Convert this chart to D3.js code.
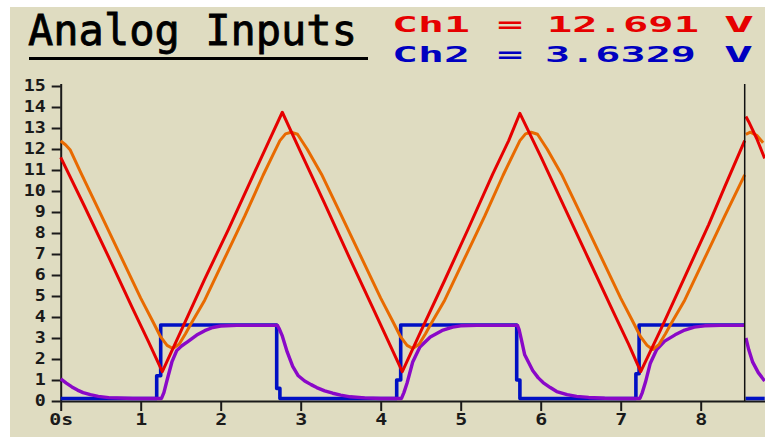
<!DOCTYPE html>
<html>
<head>
<meta charset="utf-8">
<script src="https://cdn.jsdelivr.net/npm/d3@7"></script>
<style>
  body { margin: 0; background: #ffffff; }
  svg { display: block; }
  .tick text { font-family: "DejaVu Sans Mono", monospace; font-weight: bold; font-size: 15px; fill: #1a1a1a; }
</style>
</head>
<body>
<svg id="chart" width="765" height="437"></svg>
<script>
// axis ticks
const yTicks = [0, 1, 2, 3, 4, 5, 6, 7, 8, 9, 10, 11, 12, 13, 14, 15];
const xTicks = [0, 1, 2, 3, 4, 5, 6, 7, 8];
const xTickLabels = ["0s", "1", "2", "3", "4", "5", "6", "7", "8"];

// readouts
const ch1Value = "12.691";
const ch2Value = "3.6329";
const cursorT = 8.55;

// traces [time s, volts]; "now" = left of the cursor, "old" = previous sweep right of it
const redNow = [[0,11.6],[0.3,9.25],[0.6,6.85],[0.9,4.4],[1.1,2.8],[1.27,1.4],[1.5,3.3],[1.8,5.8],[2.1,8.2],[2.4,10.7],[2.6,12.35],[2.77,13.75],
  [3.0,11.85],[3.3,9.4],[3.6,6.9],[3.9,4.45],[4.1,2.8],[4.27,1.4],[4.5,3.3],[4.8,5.75],[5.1,8.25],[5.4,10.8],[5.6,12.4],[5.74,13.7],
  [6.0,11.65],[6.3,9.2],[6.6,6.75],[6.9,4.3],[7.1,2.7],[7.25,1.4],[7.5,3.4],[7.8,5.9],[8.1,8.4],[8.3,10.2],[8.55,12.4]];
const redOld = [[8.565,13.55],[8.6,13.3],[8.7,12.5],[8.8,11.55]];

const orangeNow = [[0,12.38],[0.06,12.2],[0.12,11.95],[0.26,10.8],[0.5,8.9],[0.75,6.9],[1.0,4.9],[1.15,3.8],[1.25,3.05],[1.33,2.65],[1.4,2.5],
  [1.48,2.7],[1.56,3.2],[1.62,3.62],[1.8,4.8],[2.05,6.8],[2.3,8.8],[2.53,10.75],[2.65,11.7],[2.74,12.4],[2.81,12.72],[2.88,12.8],[2.96,12.7],
  [3.08,12.0],[3.26,10.8],[3.5,8.9],[3.75,6.9],[4.0,4.9],[4.15,3.8],[4.25,3.05],[4.33,2.65],[4.4,2.5],[4.48,2.7],[4.56,3.2],[4.62,3.62],
  [4.8,4.8],[5.05,6.8],[5.3,8.8],[5.53,10.75],[5.65,11.7],[5.74,12.4],[5.81,12.72],[5.88,12.8],[5.96,12.7],[6.08,12.0],[6.26,10.8],
  [6.5,8.9],[6.75,6.9],[7.0,4.9],[7.15,3.8],[7.25,3.05],[7.33,2.65],[7.4,2.45],[7.48,2.7],[7.56,3.2],[7.62,3.62],[7.8,4.8],[8.05,6.8],
  [8.3,8.8],[8.55,10.77]];
const orangeOld = [[8.565,12.7],[8.62,12.8],[8.7,12.65],[8.78,12.3]];

const blueNow = [[0,0.12],[1.2,0.12],[1.2,1.2],[1.25,1.2],[1.25,3.62],[2.7,3.62],[2.7,0.6],[2.74,0.6],[2.74,0.12],
  [4.2,0.12],[4.2,1.0],[4.25,1.0],[4.25,3.62],[5.7,3.62],[5.7,1.0],[5.74,1.0],[5.74,0.12],
  [7.19,0.12],[7.19,1.3],[7.23,1.3],[7.23,3.62],[8.55,3.62]];
const blueOld = [[8.56,0.12],[8.8,0.12]];

const purpleNow = [[0,1.05],[0.07,0.85],[0.14,0.67],[0.21,0.52],[0.28,0.4],[0.37,0.3],[0.47,0.22],[0.6,0.16],[0.9,0.12],[1.26,0.12],
  [1.29,0.4],[1.33,1.0],[1.39,1.86],[1.45,2.4],[1.51,2.62],[1.58,2.8],[1.7,3.14],[1.8,3.35],[1.9,3.5],[2.0,3.57],[2.2,3.6],[2.71,3.6],
  [2.73,3.45],[2.77,3.1],[2.83,2.35],[2.9,1.65],[2.97,1.2],[3.05,0.95],[3.13,0.78],[3.2,0.64],[3.3,0.48],[3.4,0.37],[3.5,0.28],
  [3.62,0.2],[3.8,0.15],[4.0,0.12],[4.26,0.12],
  [4.29,0.4],[4.33,0.86],[4.4,1.86],[4.49,2.57],[4.62,3.05],[4.78,3.38],[4.9,3.52],[5.0,3.58],[5.2,3.6],[5.71,3.6],
  [5.73,3.4],[5.76,2.9],[5.8,2.2],[5.9,1.45],[5.97,1.1],[6.03,0.88],[6.12,0.64],[6.2,0.45],[6.33,0.3],[6.45,0.22],[6.6,0.17],
  [6.8,0.13],[7.0,0.12],[7.24,0.12],
  [7.27,0.4],[7.31,0.9],[7.37,1.8],[7.45,2.45],[7.55,2.85],[7.68,3.15],[7.8,3.38],[7.92,3.52],[8.05,3.58],[8.25,3.6],[8.55,3.6]];
const purpleOld = [[8.565,3.0],[8.6,2.45],[8.65,1.85],[8.72,1.35],[8.8,0.95]];

const svg = d3.select("#chart");

svg.append("rect")
  .attr("x", 10).attr("y", 7)
  .attr("width", 755).attr("height", 430)
  .attr("fill", "#dfdcc1");

const x = d3.scaleLinear().domain([0, 8.8]).range([60.7, 764.7]);
const y = d3.scaleLinear().domain([0, 15]).range([401, 86]);

// title
svg.append("text")
  .attr("x", 28).attr("y", 45)
  .attr("textLength", 329).attr("lengthAdjust", "spacingAndGlyphs")
  .style("font-family", "'DejaVu Sans Mono', monospace")
  .style("font-size", "42px")
  .style("stroke", "#000").style("stroke-width", 0.8)
  .attr("fill", "#000")
  .text("Analog Inputs");

svg.append("rect")
  .attr("x", 29).attr("y", 57)
  .attr("width", 339).attr("height", 3)
  .attr("fill", "#000");

// readouts, stretched to the wide bitmap look
const readout = (parts, baseline, color) => {
  parts.forEach(([txt, x0, len]) => {
    svg.append("text")
      .attr("x", x0).attr("y", baseline)
      .attr("textLength", len).attr("lengthAdjust", "spacingAndGlyphs")
      .style("font-family", "'DejaVu Sans Mono', monospace")
      .style("font-weight", "bold")
      .style("font-size", "22px")
      .attr("fill", color)
      .text(txt);
  });
};
readout([["Ch1", 392, 78], ["=", 497, 26], [ch1Value, 547, 152], ["V", 724, 30]], 32, "#e60000");
readout([["Ch2", 392, 78], ["=", 497, 26], [ch2Value, 545, 151], ["V", 724, 29]], 62, "#0000c0");

// axes
const yAxis = svg.append("g")
  .attr("transform", `translate(${x(0)},0)`)
  .call(d3.axisLeft(y).tickValues(yTicks).tickSize(9).tickPadding(6).tickSizeOuter(0));
yAxis.selectAll(".tick text")
  .attr("textLength", d => String(d).length * 11)
  .attr("lengthAdjust", "spacingAndGlyphs");

const xAxis = svg.append("g")
  .attr("transform", `translate(0,${y(0)})`)
  .call(d3.axisBottom(x).tickValues(xTicks).tickFormat((d, i) => xTickLabels[i]).tickSize(10).tickPadding(3).tickSizeOuter(0));
xAxis.selectAll(".tick text")
  .attr("textLength", (d, i) => xTickLabels[i].length * 12)
  .attr("lengthAdjust", "spacingAndGlyphs");

svg.selectAll(".domain, .tick line")
  .attr("stroke", "#1a1a1a")
  .attr("stroke-width", 2);
yAxis.select(".domain").attr("d", `M0.5,${y(15) - 2}V${y(0)}`);
xAxis.select(".domain").attr("d", `M${x(0)},0.5H765`);

// traces
const line = d3.line().x(d => x(d[0])).y(d => y(d[1]));
const traces = [
  [blueNow, blueOld, "#0010c4", 3.6],
  [purpleNow, purpleOld, "#8a08c8", 3.4],
  [orangeNow, orangeOld, "#e86a00", 3],
  [redNow, redOld, "#e60000", 3]
];
traces.forEach(([now, old, color, w]) => {
  [now, old].forEach(pts => {
    svg.append("path")
      .attr("d", line(pts))
      .attr("fill", "none")
      .attr("stroke", color)
      .attr("stroke-width", w)
      .attr("stroke-linejoin", "round");
  });
});

// sweep cursor
svg.append("line")
  .attr("x1", x(cursorT)).attr("x2", x(cursorT))
  .attr("y1", y(15) - 2).attr("y2", y(0))
  .attr("stroke", "#111")
  .attr("stroke-width", 1.5);
</script>
</body>
</html>
